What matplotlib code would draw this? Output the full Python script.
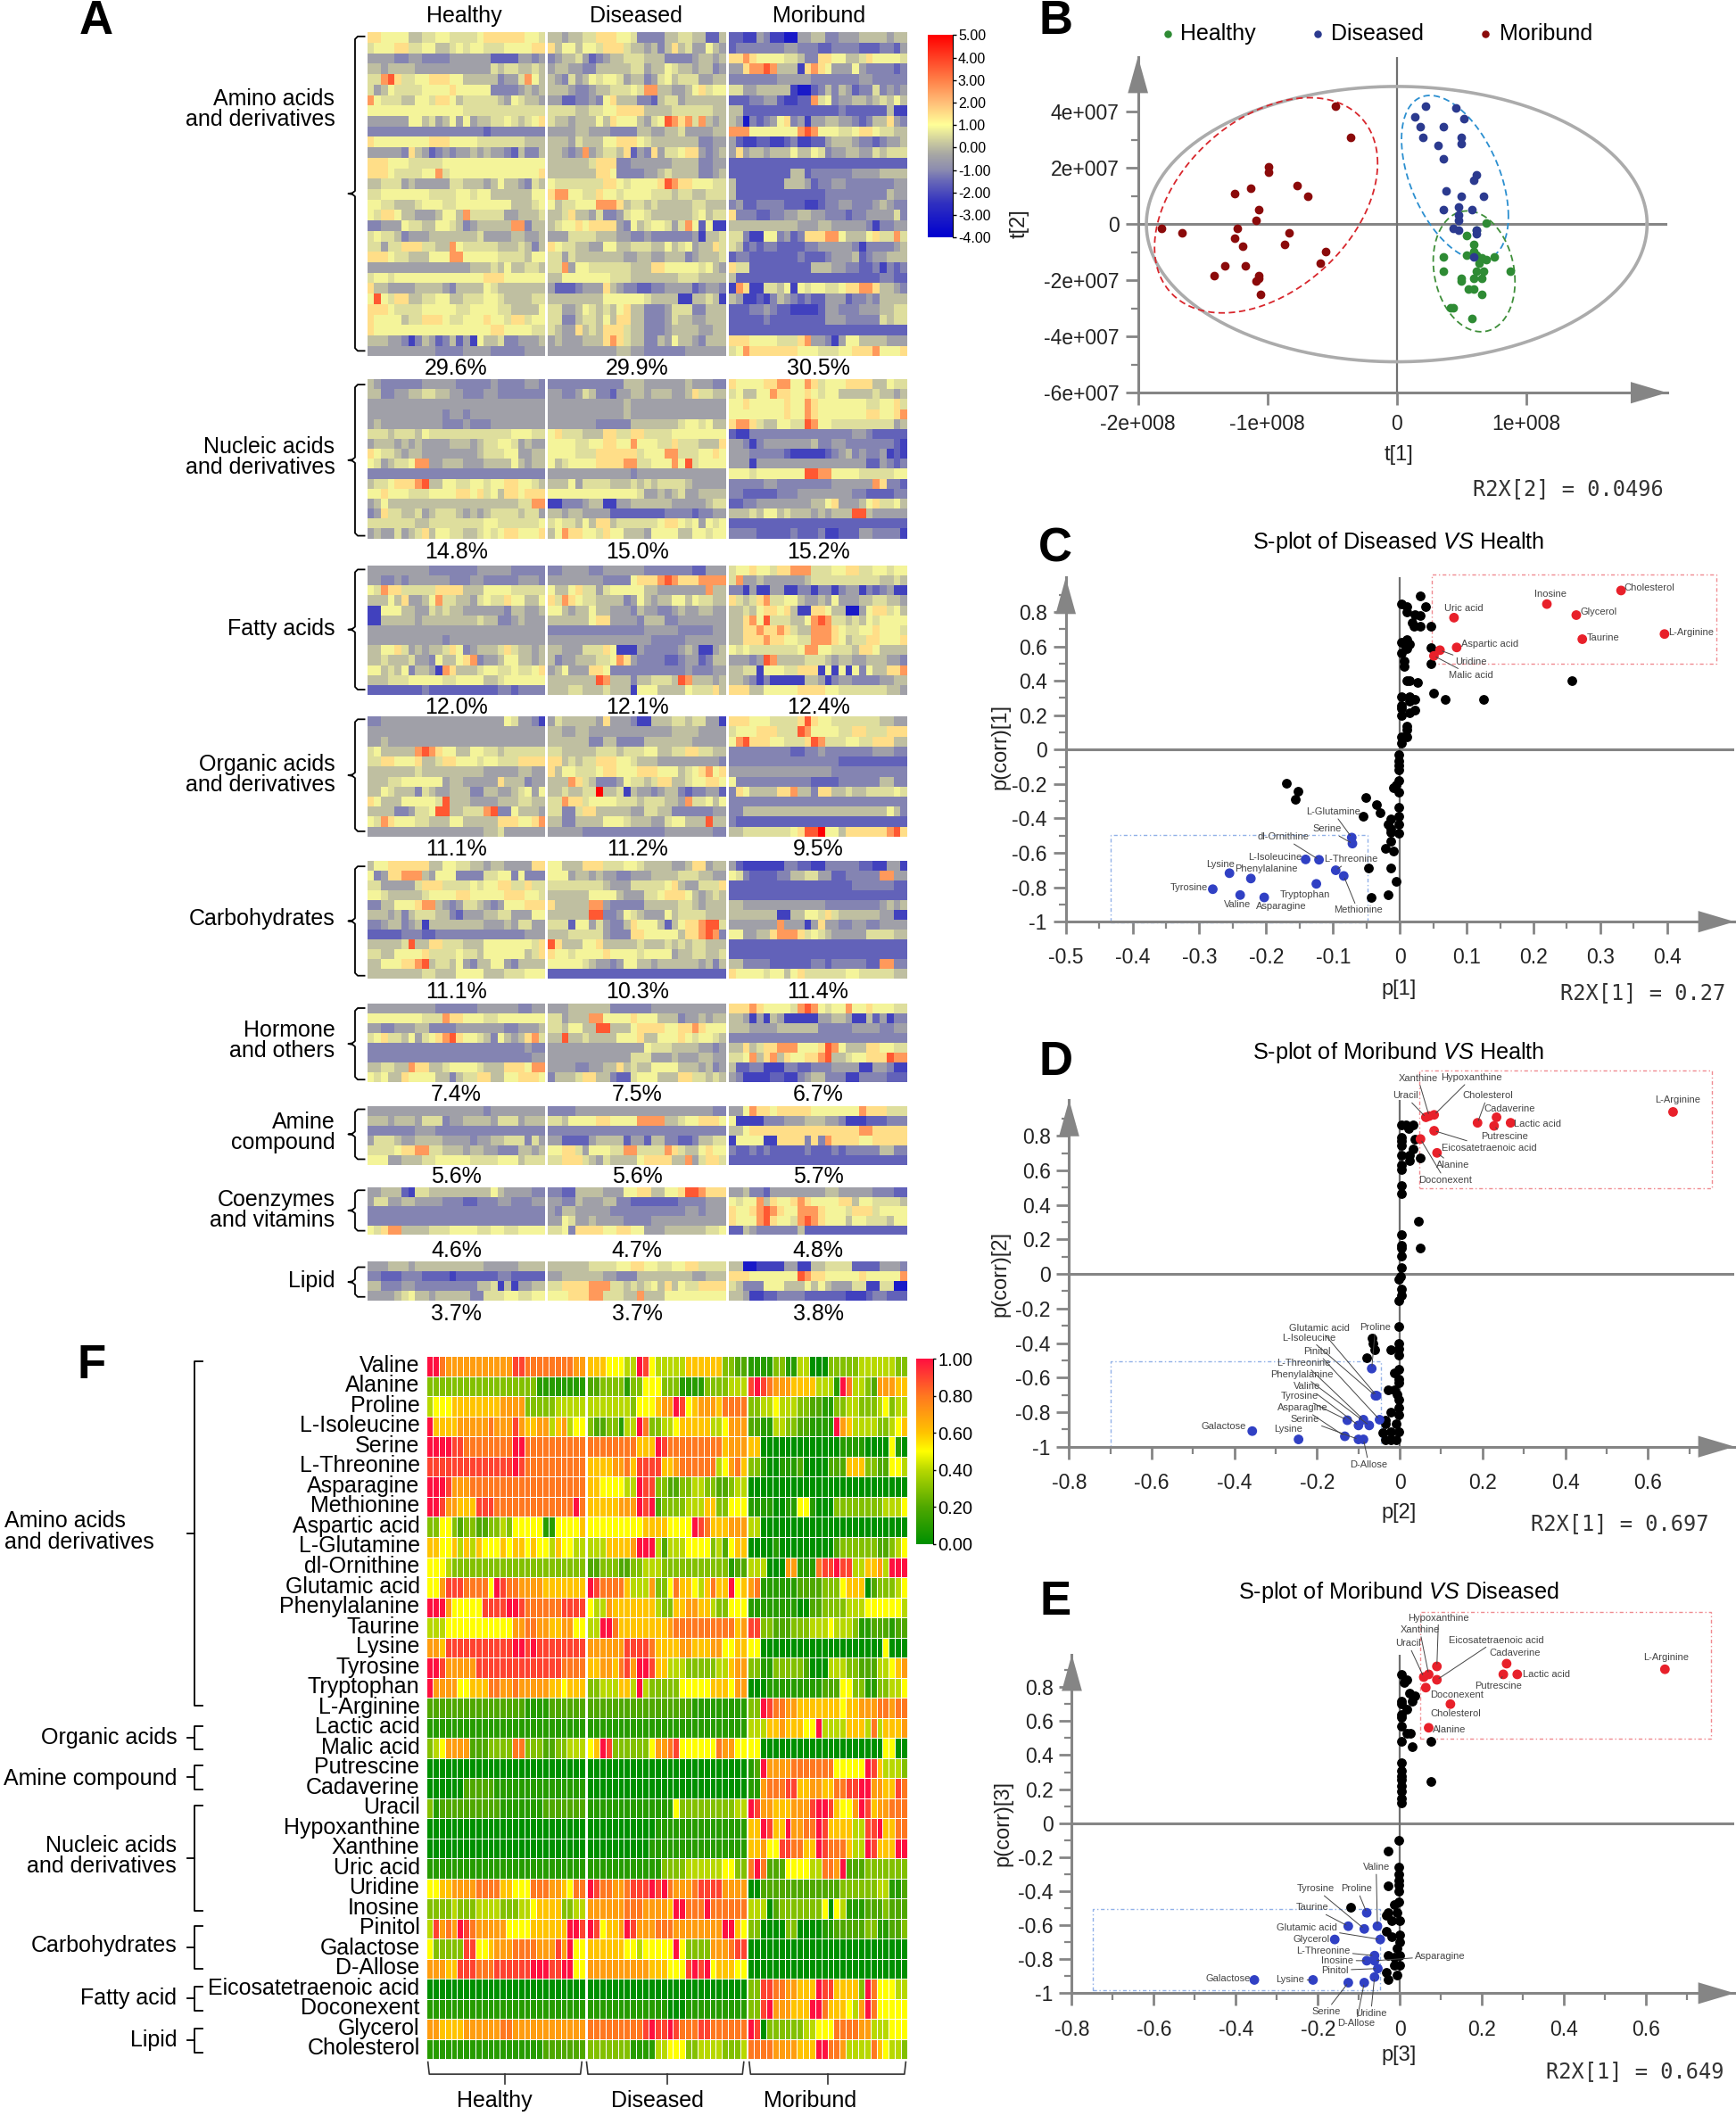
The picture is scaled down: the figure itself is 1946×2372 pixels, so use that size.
import numpy as np
import matplotlib
matplotlib.use('Agg')
import matplotlib.pyplot as plt
from matplotlib.colors import LinearSegmentedColormap
from matplotlib.patches import Rectangle

plt.rcParams['font.family'] = ['Liberation Sans', 'DejaVu Sans']
plt.rcParams['mathtext.fontset'] = 'custom'
plt.rcParams['mathtext.rm'] = 'Liberation Sans'
plt.rcParams['mathtext.it'] = 'Liberation Sans:italic'

# ---- panel A heatmap, one hex digit per cell (index into A_LEVELS), healthy / diseased / moribund
A_LEVELS = [-3.2, -2.2, -1.6, -1.1, -0.5, 0.05, 0.5, 0.85, 1.5, 2.6, 3.6, 5.0]

A_AMINO = [
    "88777755667766667888888776 55455668887763333556655225 22114311004455334445555455",
    "67778866775567677666777788 85775776888655453585644754 23333333443332233332223324",
    "44443344333344444422224434 34556423455666555333345545 88987777665338877556877776",
    "55455554444444444465665565 45544335555566455765545534 44899a95551898744474333323",
    "669a8667788877555553446975 54364576776455346756664455 33333334444433333334433333",
    "64576666777787777733334545 55543345566676995544578677 66445555510023535423363434",
    "97666557768875666665476554 44223343785553325664555555 22233442112296734455456575",
    "77777777777777666666666666 66665566778888555566666655 55222222222222223222222511",
    "44444477564574745566765678 65545557587775467a98969545 54032347834144554432355843",
    "33333333333333333233333333 44445544433335544556444455 99977777779a97776678876655",
    "87777777788877776666666555 55546555778887655555553344 42112211231122455543323445",
    "44444385423434454544325335 55434945665824384667884345 48455455575576344554465666",
    "88877766666777777777777777 55555568883344444455553344 22222222222222222222222222",
    "88876666779677777777777778 55555558873333445655553345 22222222255233333344445555",
    "55666454444466555457554365 76666666887677778a98877766 52222222555423344333333344",
    "66777777766667767755555577 89977668776777766656655666 52222222222222333333333544",
    "77665556777667777777755567 75667779998566565555566555 34223333222112334433345433",
    "76887554445775966666445556 55685546334677655555567566 83332233445544333233444463",
    "33444766557765345555599355 56778788884375677646972711 55555555554445544444313344",
    "67665344455555556444455445 44466665554433433333341556 66311773423888997555786696",
    "66466888665597666665556535 87665544775566655756745586 65232332222334444431333345",
    "88876655577799777776666577 66465555555445544555345556 23322222223222344452344555",
    "44444444444444455565755665 66947766666655588777776754 86622222222255544332231323",
    "67767777777777777888777777 55777777766655555556665555 52222222222222222222223322",
    "85544445555435555765555555 42223444854332233444423443 19811665717677667889985543",
    "7a768855667755666776555566 55555555777777655551155651 54112135432322444233435555",
    "88876666777776677776655557 66445765657855333466633555 22233432211112443334445566",
    "87777566888766777877688677 66335665758855333465544555 22222322222222444333336566",
    "87777777777777777788777766 65448565888655333455554455 22222222222222222222222222",
    "55544313542352417556334445 45444555898655335475543555 88877776668944314775555444",
    "44444444443333444433333444 44444444445544333333444444 67988888887776667788897778",
]
A_NUCLEIC = [
    "54333333444443333343333443 33333333333555444444544433 87777889977986777888855766",
    "55334455665544333443333333 44334653324455455544586655 67557798877876775555565545",
    "44444444444444444444444444 44444444444544444444444444 77877777877987777777667786",
    "44444444444344344444444444 44444444444544444444444444 77777777877987777777887789",
    "45444444444333433344444444 44444443333355555556776755 89986557766a97766666666645",
    "66656665766666666666677766 78666555886688666677777777 21133333333333333344322222",
    "45554545444455545667764544 77776677887797776686665558 44313444444453344333333321",
    "87665455444444445666774455 77776668888886777996667787 44433333211111234534334121",
    "76456679944555444555575455 75677778888996677797a67777 44414444444444444444224323",
    "33333333333333333333333333 44444444444434444444444444 77767777777aa9977776666677",
    "56678889a55776677677887765 55574666655565656666544444 33333443333333344444498332",
    "77877766677778878675887888 77777777777776445456445555 33222223334444444433222233",
    "45755555555555555555556699 11333455114455555544444566 22334444444455784445786675",
    "34866556456665454566665664 55455444422222222333323344 555657756555454555aa544444",
    "66666665566666666776666667 67665758856666667887674767 22222222222222222222222222",
    "45446456857766556767887778 57988776877555477775577677 33332222232223112224433331",
]
A_FATTY = [
    "44444444433333334444433333 33444433444444333333322444 67787768899966677886677677",
    "44334344444433344333334443 44444444333378889a98889999 69445444444566666666665565",
    "76988666668888555777766666 75578664677777554444444955 33141144113313313441323411",
    "55575844579665546766877557 86987665555347545577576655 86568966775445474445566554",
    "11777554465655444444355445 77545575544435443345445544 55657887851188755004788675",
    "11555554555555556553345444 55555578844443555334444444 55897a6665579a966565767777",
    "44444444444444444444444444 33333333333333444443333344 55889889865599987667787776",
    "44444444444344444444444444 44444444444444433333444444 55888988776699987566887778",
    "55778645455687345556865545 55444666871114333334541145 76766666667997766658875555",
    "55655564437557893445775545 53445556679843333223442355 44434a95555666545544555443",
    "77565735541985556776676678 45744488733333333333433344 55661777668881717173755889",
    "55566677777667777556777777 5555555a95553556665a955545 55431311111554134433334455",
    "22222222322222222223323333 55566555655517775555766685 88855777778888776666666554",
]
A_ORGANIC = [
    "33444444444444444444764431 46555554844431155566566441 88877766668a8776666666554",
    "44444444444444444444444444 55445544444444444455554444 6777888666a97777668866688",
    "44544444444444444444444444 55555533553333555555544444 79a888776668a9666776688855",
    "67555559a98775577665666666 66555556665666775566886655 33333333322334333333344433",
    "66887778556887776776668888 88565668887765554444444443 33333333333333332222222222",
    "55555556555555555444445544 85776667887778887775678978 44444444444444433333333333",
    "55566777777455444448555344 55598653334766568855677887 73333333333322223333335533",
    "55765553654455533554456747 5565566b556154434553233442 38755558895538855655666676",
    "87555777776a55544445556655 66988677776665666554966757 33333333333333333333333333",
    "5555334667aa556669a3375554 66336885555544665533333344 33555555555555555555555753",
    "76987776655577555558887789 55335555777655544677555a55 32222222222222222222222222",
    "44444444444444444556444444 44444333333333333444444433 55666666678aab7758888889a8",
]
A_CARB = [
    "57788888855776655455444488 77555888666776555544588455 42111111332211333332211441",
    "73488999547773333667737333 77745545443344455556665544 76322223355664422333339944",
    "66444446888666676778866866 66666666544466666785446668 22222222222222222233333322",
    "77655555677778877777888776 55555577775444667888754565 22222222222222222222222222",
    "33557778995434665434777888 85555599433333555556654555 55444444444444333333334545",
    "55545356665532444556644477 555555aa33476544475666655 55555551155776865555554411",
    "33455345155555555444546644 66627746433587775257889aa6 44444449444148443344334444",
    "22222333223333333333333444 55566666433388777775889a93 77445589998676544444666655",
    "555556a5588666555777777768 a8555778555556555656566555 22222222222222222222222222",
    "66557777866667665777777568 87767777877776777745566556 22222222222222222222222222",
    "55777889a566574355774355 77777654434775545555554535 55333322222233233333229933",
    "55555555665557777555666777 22222222222222222222222222 87777677578666666776666655",
]
A_HORMONE = [
    "44444444443333334444443344 44455555533333344444444444 88898777769a97677977877766",
    "77777777666988777667777777 66455599777787775553445455 55414154111114455411524133",
    "44334445533334444444334445 6657755aa55578888778898777 55544445555553333344443344",
    "678665746789a8776537545896 55a55655557778557778767765 33333333333333333333333333",
    "33333333333333333333333433 44444444444444766655554434 55856889997778a97555887766",
    "33333333333333333333333344 44444444444466644454445544 66795895877889a55677888a9",
    "55665598855677776555888799 44443344558565577775554534 52233111332233344441144311",
    "76755877775535668855778887 35556885532267775558866565 43111122113455333113333222",
]
A_AMINE = [
    "44444444444444444344444444 33334444444444444444444433 44798878888877777779888666",
    "55545554666344555546664555 66577778877779999556778887 71111333444555443111222333",
    "33333334443333333333333333 33333333333333333333333333 55788888888888888889988888",
    "46665445555444434455666364 44222245555244255332235566 17777118888383988887788888",
    "66667889966555455443335545 7788647776699666698655787 32232322222322232333335533",
    "77744555667777766667775666 66888654655557888855946886 22222222222222222222222222",
]
A_COENZ = [
    "44555216655555555575444433 33225555444778855778aa9888 44533244444444554444433322",
    "46644554444333223334433344 44335444553322222223333444 76779587789877778857766665",
    "33333333333333333333333333 43554444433333333333443444 87789a98779998777688867777",
    "33333333333333333333333333 44764454444333344444444444 87779a87769a98777577666577",
    "76899555566677776677667777 66738888778877444555555667 22543333335222222222222222",
]
A_LIPID = [
    "44455545555555555444445555 55555566667788776677886666 55001111441155666622224443",
    "33222333222212222223322222 44555555443335555555544555 8887777777a988777778777779",
    "55333443333333335561514455 66888899966565675857668888 6533377755575754446611660",
    "44445675545555533666776677 77788899666559555777777777 55411223333222222111233222",
]
A_BLOCKS = [A_AMINO, A_NUCLEIC, A_FATTY, A_ORGANIC, A_CARB, A_HORMONE, A_AMINE, A_COENZ, A_LIPID]
A_CLASSES = ['Amino acids\nand derivatives', 'Nucleic acids\nand derivatives', 'Fatty acids',
             'Organic acids\nand derivatives', 'Carbohydrates', 'Hormone\nand others',
             'Amine\ncompound', 'Coenzymes\nand vitamins', 'Lipid']
A_PERCENT = [['29.6%', '29.9%', '30.5%'], ['14.8%', '15.0%', '15.2%'], ['12.0%', '12.1%', '12.4%'],
             ['11.1%', '11.2%', '9.5%'], ['11.1%', '10.3%', '11.4%'], ['7.4%', '7.5%', '6.7%'],
             ['5.6%', '5.6%', '5.7%'], ['4.6%', '4.7%', '4.8%'], ['3.7%', '3.7%', '3.8%']]
GROUPS = ['Healthy', 'Diseased', 'Moribund']

# ---- panel F heatmap, digit/10 is the scaled level
F_NAMES = ['Valine', 'Alanine', 'Proline', 'L-Isoleucine', 'Serine', 'L-Threonine', 'Asparagine',
           'Methionine', 'Aspartic acid', 'L-Glutamine', 'dl-Ornithine', 'Glutamic acid',
           'Phenylalanine', 'Taurine', 'Lysine', 'Tyrosine', 'Tryptophan', 'L-Arginine',
           'Lactic acid', 'Malic acid', 'Putrescine', 'Cadaverine', 'Uracil', 'Hypoxanthine',
           'Xanthine', 'Uric acid', 'Uridine', 'Inosine', 'Pinitol', 'Galactose', 'D-Allose',
           'Eicosatetraenoic acid', 'Doconexent', 'Glycerol', 'Cholesterol']
F_ROWS = [
    "aa877777777777998888888877 66655544a95444446666663322 11113311440003333344444433",
    "33333333333333333311111111 22333313355533311113333444 9a9877766664441a8443277766",
    "45556666666677773333344444 44444443555677a95677768888 33445444332211334433345344",
    "a6666777778777976677467455 32233144a83344566666445777 22114433221111a76444433456",
    "aaaa9988888888aa8888888888 88888888666a98888888886777 66000000000000011110000510",
    "99999999999999a98888888888 66667786999966788888845786 33100111200002226663322554",
    "aaa97778888888888888888888 66555544a99332233443322344 00000000000000000000000000",
    "aa9776669998888888888888a8 66666777a9a233334446633555 11110011551000333333334445",
    "33553233223343555551155556 55555555566665555a98666777 44000000000000000000000000",
    "66556464655565665655465544 44466667aaa424445555342566 00001000000000233333322345",
    "55543333333333333333333333 22333223344433333333333122 44400077111899a99446674aaa",
    "55799988885a98877776666666 a9888864447335866546866a56 78111111222233356660233345",
    "aaa7555559999aa98888889999 54476666666433667766433555 11111111002233334445555554",
    "44455555555555778877667755 44aa8666666667888888888867 99332223334445444311222122",
    "77699999999999aa9a99999999 77777799998666677666775566 55000000000000000000005000",
    "aa977777999999999999998888 66776897aa9664443333344677 33113333320004443322244567",
    "a7777556668877877777665666 33444664a43333355555666577 00011111111122255331133445",
    "22222222222222221111222222 22222222222222222111111111 33a98877666666656677788788",
    "11111111111111111111111111 11111111111111111111111111 44466766655a44446664846667",
    "34577772223333883332233444 56a93333335778955555587755 55000000000000000000005500",
    "00000000000000000000000000 00000000000000000000000000 12a7777888888855555a964443",
    "00000022222111111111111111 00000000000000000000000000 117888996677668899aa776698",
    "31222222222211111112222222 11111111111111533333333344 a9776667779aa96557a9677888",
    "00000000000000000000000000 00000000000111111111111111 66a966a7788a966664499a6688",
    "00000000000000000000000000 00000000001111111111111111 66755998866a9888644a9666aa",
    "11111111111111111111111111 11111111111133334444445533 8a8222555544887a2223333333",
    "55667777888866555888776588 a988778999a9a8777899997777 00222222222222233333344112",
    "33334333444433344566663344 77777788877776aa888a888888 44402333333350541112223222",
    "49787a98777775555666666aa9 a95667a977788877777777aa65 33000033000011222223311223",
    "53333399556777888877797a55 66666655455555a53333777899 00000000000000000000000000",
    "77766999888999999aaa99aa55 77777777776665559a9a566655 00000000000000000000000000",
    "00000000000000000000000000 00000000000000000000000000 33998877666a9966663a855544",
    "11111111111111111111111111 11111111111110001111111111 339a777666aa8666547a855555",
    "77666677777788777777777777 8888888889a99a988899888888 a9033333344555888877444555",
    "11111111111111111112222222 33333331111445553344443334 88887777666aa88744448654433",
]

# ---- panel B scores, t[1] in 1e8 and t[2] in 1e7
B_HEALTHY_T1 = [.693, .537, .615, .595, .595, .537, .615, .655, .753, .358, .693, .635, .358, .615, .672, .875, .497, .497, .595, .655, .557, .595, .655, .419, .436, .578]
B_HEALTHY_T2 = [.05, -.42, -.21, -.71, -.98, -1.09, -1.09, -1.19, -1.17, -1.17, -1.26, -1.38, -1.66, -1.66, -1.66, -1.66, -1.94, -2.04, -1.94, -1.94, -2.31, -2.31, -2.51, -2.97, -2.97, -3.36]
B_DISEASED_T1 = [.22, .456, .14, .517, .18, .358, .2, .497, .497, .318, .358, .615, .595, .378, .497, .672, .476, .358, .578, .476, .476, .436, .476, .615, .615, .595]
B_DISEASED_T2 = [4.21, 4.12, 3.83, 3.74, 3.46, 3.46, 3.08, 3.08, 2.88, 2.79, 2.33, 1.76, 1.56, 1.19, 1.0, 1.0, .62, .52, .52, .34, .14, -.14, -.23, -.23, -.34, -1.17]
B_MORIBUND_T1 = [-.476, -.358, -.99, -.99, -.77, -.69, -1.13, -1.25, -1.07, -1.09, -1.23, -1.82, -1.66, -.83, -1.25, -.87, -1.19, -.55, -.59, -1.33, -1.17, -1.41, -1.07, -1.07, -1.09, -1.05]
B_MORIBUND_T2 = [4.21, 3.08, 2.05, 1.85, 1.38, 1.0, 1.28, 1.09, .52, .14, -.14, -.14, -.32, -.32, -.51, -.71, -.8, -.98, -1.38, -1.47, -1.47, -1.84, -1.84, -1.94, -2.04, -2.51]
# confidence ellipses: centre t1, centre t2, half width, half height, cos of skew
B_ELLIPSES = [(-1.01, .67, .862, 3.83, .39), (.45, 1.65, .413, 2.93, -.467), (.598, -1.68, .316, 2.15, -.17)]

# ---- S-plots
C_BLACK_P = [.031, .002, .010, .039, .010, .023, .031, .018, .021, .031, .047, .002, .011, .006, .014, .011, .047, .002, .006, .006, .047, .011, .015, .027, .051, .002, .015, .068, .125, .023, .015, .002, .002, .023, .015, .002, .011, .011, .002, .011, .002, .257,
             -.002, -.002, -.002, -.002, -.002, -.010, -.006, -.002, -.170, -.153, -.157, -.051, -.035, -.030, -.055, -.002, -.002, -.014, -.018, -.002, -.014, -.014, -.002, -.014, -.022, -.010, -.047, -.014, -.006, -.043, -.018]
C_BLACK_C = [.892, .846, .832, .832, .800, .787, .782, .740, .718, .718, .718, .626, .640, .611, .611, .589, .592, .561, .515, .484, .497, .403, .403, .388, .326, .309, .309, .293, .293, .293, .280, .258, .239, .230, .212, .199, .138, .114, .074, .074, .040, .403,
             -.028, -.064, -.092, -.120, -.180, -.221, -.206, -.245, -.197, -.243, -.291, -.276, -.322, -.368, -.386, -.337, -.386, -.401, -.434, -.434, -.460, -.482, -.488, -.530, -.576, -.591, -.686, -.686, -.764, -.859, -.845]
C_NAMES = ['Cholesterol', 'Inosine', 'Glycerol', 'Uric acid', 'Taurine', 'L-Arginine', 'Aspartic acid', 'Uridine', 'Malic acid',
           'L-Glutamine', 'Serine', 'dl-Ornithine', 'L-Isoleucine', 'L-Threonine', 'Methionine', 'Lysine', 'Phenylalanine', 'Tryptophan', 'Tyrosine', 'Valine', 'Asparagine']
C_P = [.331, .22, .264, .081, .273, .396, .085, .06, .051, -.072, -.071, -.121, -.141, -.096, -.084, -.255, -.223, -.125, -.280, -.239, -.203]
C_CORR = [.925, .846, .782, .767, .642, .672, .594, .578, .545, -.511, -.546, -.640, -.638, -.701, -.734, -.718, -.749, -.780, -.811, -.845, -.859]
C_LABEL_P = [.373, .225, .298, .096, .304, .436, .134, .107, .107, -.100, -.109, -.175, -.187, -.073, -.063, -.269, -.200, -.142, -.316, -.243, -.178]
C_LABEL_C = [.942, .902, .799, .819, .648, .683, .613, .511, .431, -.362, -.462, -.508, -.626, -.637, -.933, -.666, -.692, -.843, -.802, -.898, -.913]
C_LEADERS = ['Uridine', 'Malic acid', 'L-Glutamine', 'Serine', 'dl-Ornithine', 'L-Threonine', 'Methionine']

D_BLACK_P = [.004, .015, .031, .022, .004, .004, .004, .037, .031, .024, .004, .024, .050, .004, .004, .004, .004, .044, .004, .004, .004, .050, .004, .004, .001, -.002, .004, .004, -.002, -.002, -.068, -.066, -.061, -.022, -.002, -.002, -.002, -.080, -.002, -.013, -.002, -.002, -.028, -.013, -.007, -.002, -.002, -.022, -.002, -.035, -.035, -.009, -.042, -.022, -.002, -.035, -.022, -.009]
D_BLACK_C = [.862, .862, .864, .840, .788, .772, .744, .781, .722, .688, .688, .655, .670, .633, .605, .512, .463, .307, .228, .167, .148, .148, .104, .037, -.015, -.030, -.089, -.126, -.154, -.307, -.370, -.403, -.437, -.437, -.400, -.431, -.468, -.485, -.551, -.574, -.607, -.629, -.672, -.672, -.699, -.727, -.773, -.801, -.818, -.847, -.866, -.866, -.921, -.912, -.912, -.958, -.958, -.958]
D_NAMES = ['L-Arginine', 'Xanthine', 'Hypoxanthine', 'Uracil', 'Cadaverine', 'Cholesterol', 'Lactic acid', 'Putrescine', 'Eicosatetraenoic acid', 'Doconexent', 'Alanine',
           'Proline', 'Glutamic acid', 'L-Isoleucine', 'Pinitol', 'L-Threonine', 'Phenylalanine', 'Valine', 'Tyrosine', 'Serine', 'D-Allose', 'Asparagine', 'Galactose', 'Lysine']
D_P = [.661, .071, .083, .063, .234, .188, .268, .228, .083, .050, .090, -.068, -.056, -.059, -.049, -.088, -.074, -.100, -.127, -.100, -.088, -.133, -.357, -.245]
D_CORR = [.938, .914, .921, .907, .907, .875, .875, .857, .829, .781, .701, -.548, -.705, -.705, -.844, -.844, -.877, -.877, -.847, -.958, -.958, -.940, -.910, -.958]
D_LABEL_P = [.672, .044, .174, .013, .265, .212, .334, .253, .217, .109, .128, -.059, -.194, -.221, -.201, -.232, -.237, -.224, -.243, -.230, -.075, -.236, -.426, -.271]
D_LABEL_C = [1.005, 1.132, 1.136, 1.031, .958, 1.031, .868, .797, .731, .544, .631, -.309, -.315, -.370, -.450, -.516, -.583, -.653, -.709, -.844, -1.103, -.775, -.884, -.897]
D_LEADERS = ['Xanthine', 'Hypoxanthine', 'Uracil', 'Cholesterol', 'Putrescine', 'Eicosatetraenoic acid', 'Doconexent', 'Alanine', 'Proline', 'Glutamic acid',
             'L-Isoleucine', 'Pinitol', 'L-Threonine', 'Phenylalanine', 'Valine', 'Tyrosine', 'Serine', 'D-Allose', 'Asparagine']

E_BLACK_P = [.003, .017, .010, .023, .037, .030, .003, .003, .017, .003, .003, .003, .017, .025, .003, .030, .076, .003, .003, .003, .003, .003, .003, .003, .003, .076, -.003, -.028, -.003, -.003, -.003, -.003, -.028, -.003, -.003, -.014, -.121, -.028, -.034, -.008, -.021, -.001, -.034, -.021, -.001, -.001, -.008, -.028, -.014, -.001, -.014, -.001, -.034, -.008, -.028]
E_BLACK_C = [.875, .843, .827, .767, .750, .718, .718, .700, .670, .638, .622, .573, .529, .529, .483, .449, .483, .356, .308, .278, .258, .217, .187, .147, .117, .243, -.103, -.165, -.260, -.300, -.336, -.366, -.370, -.400, -.461, -.477, -.497, -.527, -.541, -.527, -.573, -.573, -.638, -.670, -.658, -.698, -.738, -.779, -.789, -.779, -.835, -.835, -.875, -.895, -.920]
E_NAMES = ['L-Arginine', 'Cadaverine', 'Putrescine', 'Lactic acid', 'Hypoxanthine', 'Eicosatetraenoic acid', 'Xanthine', 'Uracil', 'Doconexent', 'Cholesterol', 'Alanine',
           'Valine', 'Tyrosine', 'Proline', 'Taurine', 'Glutamic acid', 'Glycerol', 'L-Threonine', 'Inosine', 'Asparagine', 'Pinitol', 'Uridine', 'Lysine', 'Galactose', 'Serine', 'D-Allose']
E_P = [.646, .260, .252, .286, .090, .090, .070, .058, .063, .123, .070, -.055, -.087, -.081, -.126, -.048, -.159, -.062, -.081, -.062, -.054, -.062, -.212, -.355, -.126, -.087]
E_CORR = [.905, .938, .875, .875, .922, .843, .875, .859, .797, .700, .561, -.606, -.622, -.527, -.606, -.684, -.684, -.779, -.809, -.809, -.855, -.905, -.922, -.922, -.938, -.938]
E_LABEL_P = [.649, .281, .239, .357, .094, .235, .048, .020, .138, .136, .121, -.058, -.205, -.105, -.213, -.227, -.216, -.187, -.152, .098, -.158, -.071, -.267, -.420, -.180, -.107]
E_LABEL_C = [.974, 1.0, .809, .875, 1.207, 1.076, 1.137, 1.056, .753, .642, .551, -.260, -.386, -.386, -.497, -.614, -.684, -.750, -.807, -.781, -.865, -1.117, -.922, -.915, -1.107, -1.179]
E_LEADERS = ['Hypoxanthine', 'Xanthine', 'Uracil', 'Eicosatetraenoic acid', 'Putrescine', 'Valine', 'Tyrosine', 'Proline', 'Taurine', 'Glutamic acid', 'L-Threonine',
             'Inosine', 'Pinitol', 'Lysine', 'Serine', 'Uridine', 'D-Allose', 'Asparagine']

W, H = 1286.0, 1568.0   # layout below is given in these units (full image is 1.513x)
fig = plt.figure(figsize=(19.46, 23.72), dpi=100)
fig.patch.set_facecolor('white')


def add_axes(x0, x1, y0, y1):
    return fig.add_axes([x0 / W, 1 - y1 / H, (x1 - x0) / W, (y1 - y0) / H])


def parse_rows(rows):
    # every row is three strings of 26 cells, short rows repeat their last cell
    out = [[], [], []]
    for row in rows:
        for g, part in enumerate(row.split()):
            part = (part + part[-1] * 26)[:26]
            out[g].append([int(c, 16) for c in part])
    return [np.array(o) for o in out]


cmap_a = LinearSegmentedColormap.from_list('a', [
    (0.0, '#0000d0'), (1.5 / 9, '#3030c0'), (2.5 / 9, '#6868b8'), (3.0 / 9, '#8c8cb0'),
    (3.7 / 9, '#a8a8a4'), (4.2 / 9, '#c8c8a0'), (5.0 / 9, '#ffff98'), (6.0 / 9, '#ffbe78'),
    (7.0 / 9, '#ff8048'), (1.0, '#ff0000')])
cmap_f = LinearSegmentedColormap.from_list('f', [
    (0.0, '#009000'), (0.2, '#50a800'), (0.4, '#b8d800'), (0.5, '#ffff00'), (0.6, '#ffc400'),
    (0.8, '#ff7820'), (1.0, '#ff1040')])

# ---- panel A
a_x = [(272, 404), (406, 538), (540, 672)]
a_y = [(24, 264), (281, 399), (419, 515), (531, 620), (638, 725), (744, 802), (820, 863), (880, 915), (935, 964)]
for block, (y0, y1) in zip(A_BLOCKS, a_y):
    for g, cells in enumerate(parse_rows(block)):
        ax = add_axes(a_x[g][0], a_x[g][1], y0, y1)
        vals = np.array(A_LEVELS)[cells]
        ax.pcolormesh(vals, cmap=cmap_a, vmin=-4, vmax=5)
        ax.invert_yaxis()
        ax.axis('off')

cax = add_axes(687, 706, 26, 176)
cax.imshow(np.linspace(5, -4, 256).reshape(-1, 1), cmap=cmap_a, vmin=-4, vmax=5, aspect='auto', extent=[0, 1, -4, 5])
cax.set_xticks([])
cax.yaxis.tick_right()
cax.set_yticks(np.arange(-4, 6))
cax.set_yticklabels(['%.2f' % v for v in np.arange(-4, 6)], fontsize=11.5)
cax.tick_params(axis='y', length=3, width=1, pad=1)
for s in ['top', 'left', 'bottom']:
    cax.spines[s].set_visible(False)

# ---- panel F
f_x = [(316, 433.5), (435, 553), (554, 672)]
for g, cells in enumerate(parse_rows(F_ROWS)):
    ax = add_axes(f_x[g][0], f_x[g][1], 1005, 1526)
    ax.pcolormesh(cells / 10.0, cmap=cmap_f, vmin=0, vmax=1, edgecolors='white', linewidth=0.7)
    ax.invert_yaxis()
    ax.axis('off')

cax = add_axes(679, 691, 1007, 1144)
cax.imshow(np.linspace(1, 0, 256).reshape(-1, 1), cmap=cmap_f, vmin=0, vmax=1, aspect='auto', extent=[0, 1, 0, 1])
cax.set_xticks([])
cax.yaxis.tick_right()
cax.set_yticks([0, .2, .4, .6, .8, 1])
cax.set_yticklabels(['0.00', '0.20', '0.40', '0.60', '0.80', '1.00'], fontsize=14.5)
cax.tick_params(axis='y', length=2, width=1, pad=2)
for s in ['top', 'left', 'bottom']:
    cax.spines[s].set_visible(False)

GRAY = '#858585'


def style_axes(ax, xmajor, xminor, xlabels, ymajor, yminor, ylabels, xpad=11):
    ax.patch.set_alpha(0)
    for s in ['top', 'right']:
        ax.spines[s].set_visible(False)
    for s in ['left', 'bottom']:
        ax.spines[s].set_color(GRAY)
        ax.spines[s].set_linewidth(2.2)
    ax.set_xticks(xmajor)
    ax.set_xticklabels(xlabels, fontsize=16.5, color='#222222')
    ax.set_yticks(ymajor)
    ax.set_yticklabels(ylabels, fontsize=16.5, color='#222222')
    ax.set_xticks(xminor, minor=True)
    ax.set_yticks(yminor, minor=True)
    ax.tick_params(which='major', length=10, width=2, color=GRAY, pad=5)
    ax.tick_params(which='minor', length=6, width=1.6, color=GRAY)
    ax.tick_params(axis='x', which='major', pad=xpad)
    ax.axhline(0, color=GRAY, lw=2.2, zorder=1)
    ax.axvline(0, color='#707070', lw=1.6, zorder=1)


def splot(ax, black_p, black_c, names, px, py, lx, ly, leaders, red_box, blue_box):
    ax.scatter(black_p, black_c, s=46, color='black', zorder=3, clip_on=False)
    colors = ['#e8202a' if c > 0 else '#3040c4' for c in py]
    ax.scatter(px, py, s=46, color=colors, zorder=4, clip_on=False)
    for i, name in enumerate(names):
        if name in leaders:
            ax.annotate(name, xy=(px[i], py[i]), xytext=(lx[i], ly[i]), ha='center', va='center',
                        fontsize=8, color='#444444', zorder=5, annotation_clip=False,
                        arrowprops=dict(arrowstyle='-', color='#444444', lw=0.7, shrinkA=0, shrinkB=2))
        else:
            ax.text(lx[i], ly[i], name, ha='center', va='center', fontsize=8, color='#444444', zorder=5)
    ax.add_patch(Rectangle((red_box[0], red_box[2]), red_box[1] - red_box[0], red_box[3] - red_box[2], fill=False,
                           ec='#f08a90', ls=(0, (3, 2, 1, 2)), lw=1, clip_on=False, zorder=2))
    ax.add_patch(Rectangle((blue_box[0], blue_box[2]), blue_box[1] - blue_box[0], blue_box[3] - blue_box[2], fill=False,
                           ec='#90b0e8', ls=(0, (3, 2, 1, 2)), lw=1, clip_on=False, zorder=2))


def fmt(v):
    return '0' if abs(v) < 1e-9 else '%.1f' % v


# ---- panel B
ax = add_axes(843, 1235, 42, 291)
ax.set_xlim(-2, 2.09)
ax.set_ylim(-6, 5.96)
style_axes(ax, [-2, -1, 0, 1], [], ['-2e+008', '-1e+008', '0', '1e+008'],
           [-6, -4, -2, 0, 2, 4], np.arange(-5, 6, 2), ['-6e+007', '-4e+007', '-2e+007', '0', '2e+007', '4e+007'], xpad=7)
t = np.linspace(0, 2 * np.pi, 300)
ax.plot(1.935 * np.cos(t), 4.9 * np.sin(t), color='#ababab', lw=2.6, zorder=2)
for (cx, cy, a, b, c), col in zip(B_ELLIPSES, ['#d8262c', '#2b8fd0', '#3f8f3a']):
    phi = np.arccos(c)
    ax.plot(cx + a * np.cos(t), cy + b * np.cos(t - phi), color=col, lw=1.3, ls=(0, (4, 2.4)), zorder=2)
ax.scatter(B_HEALTHY_T1, B_HEALTHY_T2, s=36, color='#2e8b34', zorder=3)
ax.scatter(B_DISEASED_T1, B_DISEASED_T2, s=36, color='#2b3a8f', zorder=3)
ax.scatter(B_MORIBUND_T1, B_MORIBUND_T2, s=36, color='#8b0a0a', zorder=4)

# ---- panel C
ax = add_axes(789.5, 1285, 428, 683)
ax.set_xlim(-0.5, 0.501)
ax.set_ylim(-1, 1)
xm = [-.5, -.4, -.3, -.2, -.1, 0, .1, .2, .3, .4]
ym = [-1, -.8, -.6, -.4, -.2, 0, .2, .4, .6, .8]
ylab = ['-1', '-0.8', '-0.6', '-0.4', '-0.2', '0', '0.2', '0.4', '0.6', '0.8']
style_axes(ax, xm, np.arange(-.45, .46, .1), [fmt(v) for v in xm], ym, np.arange(-.9, .91, .2), ylab)
splot(ax, C_BLACK_P, C_BLACK_C, C_NAMES, C_P, C_CORR, C_LABEL_P, C_LABEL_C, C_LEADERS,
      (.048, .473, .5, 1.016), (-.433, -.049, -1.003, -.497))

# ---- panel D
xm = [-.8, -.6, -.4, -.2, 0, .2, .4, .6]
ax = add_axes(792, 1285, 815, 1072)
ax.set_xlim(-0.8, 0.81)
ax.set_ylim(-1, 1.008)
style_axes(ax, xm, np.arange(-.7, .71, .2), [fmt(v) for v in xm], ym, np.arange(-.9, .91, .2), ylab)
splot(ax, D_BLACK_P, D_BLACK_C, D_NAMES, D_P, D_CORR, D_LABEL_P, D_LABEL_C, D_LEADERS,
      (.048, .754, .498, 1.179), (-.699, -.046, -1.0, -.507))

# ---- panel E
ax = add_axes(794, 1285, 1226, 1477)
ax.set_xlim(-0.8, 0.816)
ax.set_ylim(-1, 0.992)
style_axes(ax, xm, np.arange(-.7, .71, .2), [fmt(v) for v in xm], ym, np.arange(-.9, .91, .2), ylab)
splot(ax, E_BLACK_P, E_BLACK_C, E_NAMES, E_P, E_CORR, E_LABEL_P, E_LABEL_C, E_LEADERS,
      (.050, .758, .495, 1.243), (-.749, -.048, -.980, -.503))

# ---- everything placed on the page: text, brackets, arrow heads
ov = fig.add_axes([0, 0, 1, 1])
ov.set_xlim(0, W)
ov.set_ylim(H, 0)
ov.axis('off')

for letter, x, y in [('A', 71, 16), ('B', 782, 16), ('C', 782, 407), ('D', 782, 787), ('E', 782, 1187), ('F', 68, 1012)]:
    ov.text(x, y, letter, fontsize=38, fontweight='bold', ha='center', va='center')

for name, x in zip(GROUPS, [344, 471, 607]):
    ov.text(x, 12, name, fontsize=18, ha='center', va='center')
pct_y = [273, 409, 524, 629, 735, 811, 872, 927, 974]
for labels, y in zip(A_PERCENT, pct_y):
    for lab, x in zip(labels, [338, 472, 606]):
        ov.text(x, y, lab, fontsize=18, ha='center', va='center')

a_spans = [(27, 260), (285, 397), (422, 511), (533, 616), (642, 723), (747, 800), (822, 859), (882, 912), (939, 961)]
a_text_y = [81, 339, 466, 574, 681, 771, 839, 897, 949]
for (y0, y1), lab, ty in zip(a_spans, A_CLASSES, a_text_y):
    mid = (y0 + y1) / 2.0
    ov.plot([270, 265, 263, 263, 261, 258, 261, 263, 263, 265, 270],
            [y0, y0, y0 + 2, mid - 2, mid - 0.5, mid, mid + 0.5, mid + 2, y1 - 2, y1, y1], color='black', lw=1.3)
    ov.text(248, ty, lab, fontsize=18, ha='right', va='center', linespacing=0.95, multialignment='right')

for i, name in enumerate(F_NAMES):
    ov.text(311, 1012 + i * 14.88, name, fontsize=18, ha='right', va='center')

f_spans = [(1009, 1264), (1279, 1296), (1308, 1326), (1338, 1416), (1427, 1459), (1472, 1490), (1503, 1521)]
for y0, y1 in f_spans:
    mid = (y0 + y1) / 2.0
    ov.plot([150, 144, 144, 150], [y0, y0, y1, y1], color='black', lw=1.3)
    ov.plot([139, 144], [mid, mid], color='black', lw=1.3)
ov.text(3, 1135, 'Amino acids\nand derivatives', fontsize=18, ha='left', va='center', linespacing=0.95)
for lab, y in [('Organic acids', 1288), ('Amine compound', 1318), ('Nucleic acids\nand derivatives', 1375),
               ('Carbohydrates', 1442), ('Fatty acid', 1481), ('Lipid', 1512)]:
    ov.text(131, y, lab, fontsize=18, ha='right', va='center', linespacing=0.95, multialignment='right')
for (x0, x1), name, tx, lx in zip([(317, 431), (434.5, 551), (555, 671)], GROUPS, [374, 494, 613], [366, 487, 600]):
    ov.plot([x0, x0 + 1, x1 - 1, x1], [1528, 1537, 1537, 1528], color='#333333', lw=1.2)
    ov.plot([tx, tx], [1537, 1544], color='#333333', lw=1.2)
    ov.text(lx, 1557, name, fontsize=18, ha='center', va='center')

# legend of B
for x, col, tx, name in [(865, '#2e8b34', 874, 'Healthy'), (976, '#2b3a8f', 986, 'Diseased'), (1100, '#8b0a0a', 1111, 'Moribund')]:
    ov.scatter([x], [25], s=26, color=col)
    ov.text(tx, 25, name, fontsize=18, ha='left', va='center')

# axis arrow heads
for ax_x, top, bottom, right in [(843, 42, 291, 1235), (789.5, 428, 683, 1285), (792, 815, 1072, 1285), (794, 1226, 1477, 1285)]:
    ov.fill([ax_x - 7.5, ax_x + 7.5, ax_x], [top + 27, top + 27, top], color=GRAY, lw=0)
    ov.fill([right - 27, right - 27, right], [bottom - 8, bottom + 8, bottom], color=GRAY, lw=0)

for txt, x, y in [('S-plot of Diseased $\\mathit{VS}$ Health', 1036, 402), ('S-plot of Moribund $\\mathit{VS}$ Health', 1036, 780),
                  ('S-plot of Moribund $\\mathit{VS}$ Diseased', 1036, 1180)]:
    ov.text(x, y, txt, fontsize=18.2, ha='center', va='center')

for txt, x, y in [('t[1]', 1036, 337), ('p[1]', 1036, 733), ('p[2]', 1036, 1121), ('p[3]', 1036, 1523)]:
    ov.text(x, y, txt, fontsize=17, ha='center', va='center', color='#222222')
for txt, x, y in [('t[2]', 755, 166), ('p(corr)[1]', 741, 553), ('p(corr)[2]', 741, 944), ('p(corr)[3]', 743, 1351)]:
    ov.text(x, y, txt, fontsize=17, ha='center', va='center', rotation=90, color='#222222')
for txt, x, y in [('R2X[2] = 0.0496', 1232, 362), ('R2X[1] = 0.27', 1278, 736), ('R2X[1] = 0.697', 1266, 1129), ('R2X[1] = 0.649', 1277, 1535)]:
    ov.text(x, y, txt, fontsize=17, ha='right', va='center', family='DejaVu Sans Mono', color='#333333')

fig.savefig('out.png', dpi=100)
